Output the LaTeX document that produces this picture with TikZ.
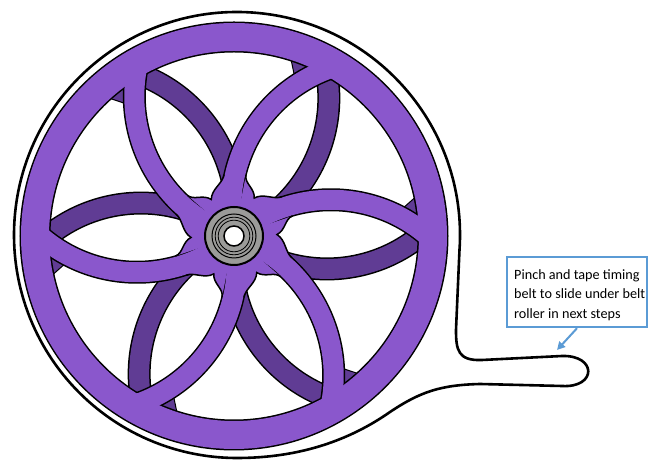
\documentclass[tikz,border=0pt]{standalone}
\usepackage{fontspec}
\setmainfont{Carlito}
\usetikzlibrary{arrows.meta}
\definecolor{wheelpurple}{RGB}{138,87,204}
\definecolor{wheelshade}{RGB}{96,60,148}
\definecolor{hubgray}{RGB}{155,155,153}
\definecolor{noteblue}{RGB}{91,155,213}

\begin{document}
\begin{tikzpicture}[x=1pt,y=1pt,
  belt/.style={draw=black, line width=2.6pt, line join=round},
  bandedge/.style={draw=black, line width=23pt},
  bandfill/.style={draw=wheelpurple, line width=20pt},
  shadefill/.style={draw=wheelshade, line width=20pt},
  wedge/.style={fill=wheelshade, draw=black, line width=1pt},
  webline/.style={draw=black, line width=1.5pt},
  notebox/.style={draw=noteblue, line width=2.5pt, fill=white,
    minimum width=140pt, minimum height=70pt, inner sep=0pt},
  notetext/.style={align=left, inner sep=0pt,
    font=\fontsize{14.2}{19.5}\selectfont},
  pointer/.style={draw=noteblue, line width=2pt,
    -{Triangle[length=8pt,width=8pt]}}
]
\useasboundingbox (0,0) rectangle (649,465);
\fill[white] (0,0) rectangle (649,465);

\begin{scope}[shift={(234,229)}]
  % timing belt wrapped round the pulley, ending in a flat tail
  \draw[belt] (225.46,-14.56) arc[start angle=-4, end angle=270, radius=223]
    .. controls (66,-222) and (116,-204) .. (156,-176)
    .. controls (186,-156) and (206,-149) .. (246,-148)
    -- (328,-150)
    .. controls (363,-152) and (363,-119) .. (328,-120)
    -- (248,-124)
    .. controls (224,-125) and (222,-114) .. (222,-94)
    -- cycle;

  % lower layer: shaded spoke sides and the small wedges at the rim
  \begin{scope}
    \clip (0,0) circle (205);
    \foreach \p in {1,61,121,181,241,301} {
      \begin{scope}[rotate=\p]
        \draw[bandedge] (201.31,10.55) arc[start angle=-44, end angle=-127, radius=147.79];
        \draw[shadefill] (201.31,10.55) arc[start angle=-44, end angle=-127, radius=147.79];
        \filldraw[wedge] (5.25:185) -- (8.5:172) -- (11:185)
          arc[start angle=11, end angle=5.25, radius=185] -- cycle;
      \end{scope}
    }
  \end{scope}

  % outlines of rim and spokes
  \draw[black, line width=31pt] (0,0) circle (199);
  \begin{scope}
    \clip (0,0) circle (205);
    \foreach \p in {1,61,121,181,241,301}
      \draw[bandedge, rotate=\p] (0,0) arc[start angle=130, end angle=44, radius=147.79];
  \end{scope}

  % purple faces
  \draw[wheelpurple, line width=28pt] (0,0) circle (199);
  \begin{scope}
    \clip (0,0) circle (205);
    \foreach \p in {1,61,121,181,241,301}
      \draw[bandfill, rotate=\p] (0,0) arc[start angle=130, end angle=44, radius=147.79];
  \end{scope}
  \fill[wheelpurple] (0,0) circle (38);

  % webs between neighbouring spokes round the hub
  \foreach \p in {1,61,121,181,241,301} {
    \begin{scope}[rotate=\p]
      \fill[wheelpurple] (57.6,-22.9) .. controls (50.7,-17.1) and (52,-5) .. (43,0.7)
        .. controls (52,5) and (51,16.4) .. (59,19.06)
        -- (18:34) arc[start angle=18, end angle=-22, radius=34] -- cycle;
      \draw[webline] (57.6,-22.9) .. controls (50.7,-17.1) and (52,-5) .. (43,0.7)
        .. controls (52,5) and (51,16.4) .. (59,19.06);
    \end{scope}
  }

  % bearing in the hub
  \filldraw[fill=hubgray, draw=black, line width=2pt] (0,0) circle (29);
  \draw[line width=1pt] (0,0) circle (22);
  \draw[line width=0.8pt] (0,0) circle (18.8);
  \draw[line width=0.8pt] (0,0) circle (15.8);
  \filldraw[fill=white, draw=black, line width=1.5pt] (0,0) circle (10);
\end{scope}

% callout
\node[notebox] (callout) at (577,173) {};
\node[notetext, anchor=north west] (note) at (514,196)
  {Pinch and tape timing\\belt to slide under belt\\roller in next steps};
\coordinate (tip) at (557,115);
\draw[pointer] (callout.south) -- (tip);
\end{tikzpicture}
\end{document}
